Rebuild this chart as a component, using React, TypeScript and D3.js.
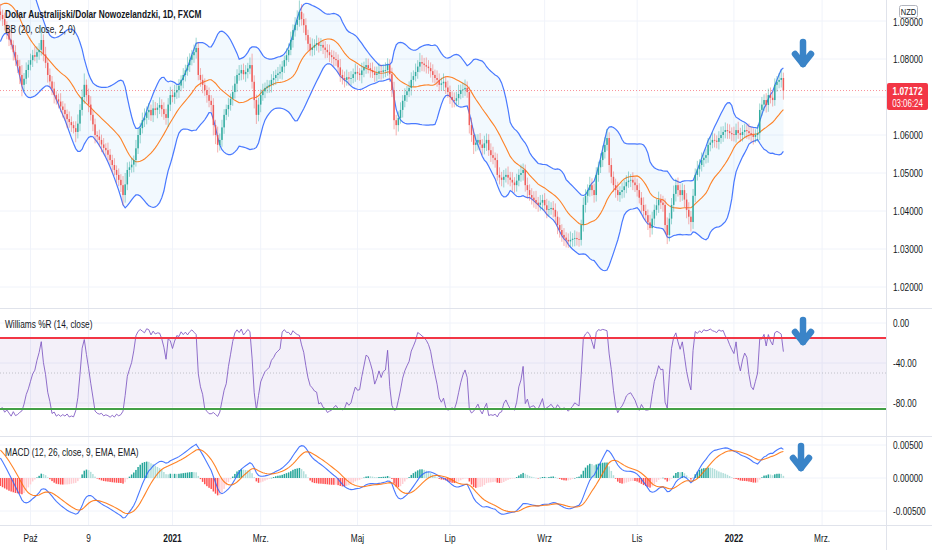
import React from "react";
import * as d3 from "d3";

// ---------- DATA (pips above 1.0000) ----------
// closes before the first visible bar (only used to warm up the indicators)
const WARM_CLOSES = [740,748,745,755,762,758,768,775,770,780,788,785,795,800,798,808,815,812,820,828,835,840,855,870,890,910,930,950,965,980,995,1005,1000,990,985,975,960,950,940,925];

// daily closes, first bar 2020-09-11, last bar 2022-02-03
const CLOSES = [
916,905,889,872,851,837,818,797,781,758,
732,748,771,785,797,810,806,818,824,850,
812,790,758,741,722,705,694,688,675,666,
655,642,634,626,618,608,630,666,700,732,
705,680,653,628,600,596,587,575,566,560,
548,534,521,508,495,482,468,442,470,508,
515,522,534,565,600,618,639,645,660,666,
652,670,666,672,679,668,655,645,680,705,
700,712,718,730,745,758,770,784,798,810,
818,829,758,745,732,718,705,690,679,626,
600,574,587,620,653,668,679,695,713,735,
758,762,771,760,766,775,784,740,692,653,
680,705,715,724,728,732,745,750,758,762,
766,780,797,810,824,850,876,890,903,924,
905,889,863,840,824,830,837,842,835,837,
830,824,818,810,805,800,797,778,758,750,
745,752,748,750,760,766,762,758,770,778,
784,776,771,765,758,762,768,766,770,771,
784,760,718,639,626,645,666,690,705,715,
724,745,755,766,780,792,788,784,780,776,
768,758,750,745,732,736,740,725,713,700,
692,690,697,708,718,720,724,713,626,600,
574,580,587,575,566,578,587,560,547,540,
534,495,488,482,490,495,488,482,475,468,
480,495,500,508,468,455,442,435,429,422,
416,422,429,415,403,405,408,403,385,363,
350,337,330,324,320,324,327,329,326,324,
363,416,440,455,468,455,442,495,515,534,
555,574,592,521,490,468,455,442,450,455,
465,476,480,482,475,468,455,435,416,400,
389,370,355,380,403,415,429,422,416,363,
337,380,416,445,468,455,442,455,430,403,
385,371,440,495,510,521,534,540,547,574,
580,587,585,582,592,600,608,613,610,605,
602,600,613,605,600,608,613,610,605,600,
595,600,605,666,680,692,679,705,698,692,
732,740,745,750,717
];

// upper wick above the body, pips
const WICK_UP = [
20,14,17,10,15,24,12,18,14,17,26,15,20,12,17,14,22,15,18,34,
15,20,12,17,14,18,10,15,22,14,17,12,20,15,10,18,24,15,20,30,
14,17,22,12,15,10,18,14,17,12,20,15,14,18,12,17,15,24,30,20,
15,18,12,22,17,14,20,25,15,18,14,22,17,12,20,15,18,14,17,22,
15,20,14,17,12,18,15,22,17,14,20,27,15,18,14,17,12,20,15,18,
14,22,17,20,15,12,18,14,17,20,15,22,14,17,18,15,20,30,17,14,
18,15,20,14,17,12,15,18,14,17,20,15,12,18,17,22,15,20,25,30,
20,15,18,14,17,24,15,20,14,18,12,17,15,20,14,17,18,15,22,14,
17,20,14,18,15,22,17,14,20,15,18,17,14,20,15,18,22,17,15,20,
18,15,17,22,14,17,20,15,18,14,17,20,15,22,17,24,18,15,20,17,
15,18,14,20,17,15,22,14,18,17,15,20,17,24,15,18,22,17,14,20,
17,22,15,18,14,20,17,15,18,22,14,17,20,15,18,17,22,15,20,14,
18,15,22,17,14,20,15,18,17,24,15,20,14,18,17,22,15,18,17,14,
20,15,18,14,17,22,15,20,17,18,14,20,17,15,22,18,17,20,15,18,
17,20,24,15,18,14,17,22,15,20,17,18,24,15,20,14,17,18,15,20,
17,15,20,18,14,17,22,15,18,17,20,15,18,22,17,20,15,18,14,17,
20,15,18,17,22,15,20,14,17,18,15,20,17,14,18,22,15,20,17,18,
15,20,17,22,14,18,17,15,20,17,18,15,22,17,20,15,18,17,20,18,
17,15,18,22,14
];

// lower wick below the body, pips
const WICK_DN = [
15,18,14,20,17,12,22,15,18,24,30,17,14,20,15,18,12,17,20,15,
18,14,20,15,17,22,14,18,15,20,17,24,15,18,14,27,17,20,15,18,
17,20,15,18,22,14,17,20,15,18,17,14,20,15,22,17,18,27,20,15,
18,14,20,17,15,22,14,18,17,20,15,18,14,22,17,20,15,18,24,17,
14,18,17,20,15,22,17,14,18,15,20,17,14,18,22,15,20,17,18,27,
24,20,15,18,17,14,20,15,18,17,22,15,18,14,20,17,15,18,22,24,
17,20,15,18,14,17,20,15,18,17,14,20,17,15,18,14,20,17,15,18,
17,20,14,18,15,17,20,15,18,14,17,22,15,18,17,20,15,14,18,17,
20,15,18,17,14,20,17,15,22,18,17,14,20,15,18,17,15,20,17,18,
15,20,18,24,27,17,15,20,17,18,15,20,17,14,18,15,20,17,18,15,
17,20,15,18,17,14,20,17,15,18,20,17,15,18,14,20,17,15,22,18,
24,17,20,15,18,17,20,15,18,17,20,15,18,17,20,15,18,17,22,20,
17,15,18,20,17,22,15,18,20,17,18,15,20,17,22,18,15,20,17,24,
20,18,22,20,17,15,18,20,17,18,15,17,20,18,17,15,20,17,18,15,
18,17,15,20,17,18,20,15,18,17,20,18,15,17,20,18,17,15,20,18,
17,20,24,17,18,15,20,17,18,22,24,17,15,18,20,17,18,15,20,22,
20,25,18,17,15,20,17,18,15,20,17,15,18,17,20,15,18,17,20,15,
18,17,20,15,18,17,15,20,17,18,20,15,17,18,15,17,20,18,15,17,
15,18,17,20,24
];

const PRICE_TICKS = [1.02, 1.03, 1.04, 1.05, 1.06, 1.07, 1.08, 1.09];
const WPR_TICKS = [0, -40, -80];
const MACD_TICKS = [0.005, 0, -0.005];
const WPR_LEVELS = { upper: -15, middle: -50, lower: -86 };
const TIME_LABELS = [
  { text: "Paź", date: "2020-10-01", bold: false },
  { text: "9", date: "2020-11-09", bold: false },
  { text: "2021", date: "2021-01-01", bold: true },
  { text: "Mrz.", date: "2021-03-01", bold: false },
  { text: "Maj", date: "2021-05-03", bold: false },
  { text: "Lip", date: "2021-07-01", bold: false },
  { text: "Wrz", date: "2021-09-01", bold: false },
  { text: "Lis", date: "2021-11-01", bold: false },
  { text: "2022", date: "2022-01-03", bold: true },
  { text: "Mrz.", date: "2022-03-01", bold: false },
];
const START_DATE = "2020-09-11";
const LAST_PRICE_TEXT = "1.07172";
const COUNTDOWN_TEXT = "03:06:24";
const TITLE = "Dolar Australijski/Dolar Nowozelandzki, 1D, FXCM";
const BB_TITLE = "BB (20, close, 2, 0)";
const WPR_TITLE = "Williams %R (14, close)";
const MACD_TITLE = "MACD (12, 26, close, 9, EMA, EMA)";
const CURRENCY = "NZD";

// ---------- helpers ----------
const DAY = 86400000;
function weekdayIndex(iso: string): number {
  const s = Date.parse(START_DATE + "T00:00:00Z");
  const t = Date.parse(iso + "T00:00:00Z");
  let n = 0;
  for (let d = s; d < t; d += DAY) {
    const wd = new Date(d).getUTCDay();
    if (wd !== 0 && wd !== 6) n++;
  }
  return n;
}

function ema(src: number[], len: number): number[] {
  const a = 2 / (len + 1);
  const out: number[] = [];
  src.forEach((v, k) => {
    out.push(k === 0 ? v : a * v + (1 - a) * out[k - 1]);
  });
  return out;
}

// ---------- computed series ----------
const NW = WARM_CLOSES.length;
const N = CLOSES.length;
const closeAll = [...WARM_CLOSES, ...CLOSES].map((v) => 1 + v / 10000);
const openAll = closeAll.map((c, k) => (k === 0 ? c : closeAll[k - 1]));
const highAll = closeAll.map((c, k) =>
  k < NW ? c : Math.max(openAll[k], c) + WICK_UP[k - NW] / 10000
);
const lowAll = closeAll.map((c, k) =>
  k < NW ? c : Math.min(openAll[k], c) - WICK_DN[k - NW] / 10000
);

const bbBasis: number[] = [];
const bbUpper: number[] = [];
const bbLower: number[] = [];
const wpr: number[] = [];
for (let i = 0; i < N; i++) {
  const k = i + NW;
  const win = closeAll.slice(k - 19, k + 1);
  const m = d3.mean(win) as number;
  const sd = Math.sqrt(d3.mean(win.map((v) => (v - m) * (v - m))) as number);
  bbBasis.push(m);
  bbUpper.push(m + 2 * sd);
  bbLower.push(m - 2 * sd);
  const hh = d3.max(highAll.slice(k - 13, k + 1)) as number;
  const ll = d3.min(lowAll.slice(k - 13, k + 1)) as number;
  wpr.push(hh === ll ? -50 : ((hh - closeAll[k]) / (hh - ll)) * -100);
}
const ema12 = ema(closeAll, 12);
const ema26 = ema(closeAll, 26);
const macdAll = closeAll.map((_, k) => ema12[k] - ema26[k]);
const sigAll = ema(macdAll, 9);
const histAll = macdAll.map((m, k) => m - sigAll[k]);

// ---------- layout ----------
const W = 932;
const H = 550;
const PR = 886; // plot right edge
const MAIN = { top: 0, bottom: 308 };
const WP = { top: 308, bottom: 436 };
const MP = { top: 436, bottom: 525 };
const FONT = "'Liberation Sans', Arial, sans-serif";
const TXT = "#131722";
const GRID = "#f0f3fa";
const SEP = "#e0e3eb";
const UP = "#26a69a";
const DOWN = "#ef5350";
const ARROW = "#3a84c8";
const SQ = 0.79; // horizontal squeeze of the lettering

const x = d3.scaleLinear().domain([0, N - 1]).range([0.4, 783.4]);
const yP = d3.scaleLinear().domain([1.02, 1.08]).range([287, 59]);
const yW = d3.scaleLinear().domain([-100, 0]).range([423, 323]);
const yM = d3.scaleLinear().domain([-0.005, 0.005]).range([511, 445]);

function T({
  x: tx, y: ty, children, size = 10, weight = 400, anchor = "start", fill = TXT,
}: { x: number; y: number; children: React.ReactNode; size?: number; weight?: number; anchor?: string; fill?: string }) {
  return (
    <text
      transform={`translate(${tx},${ty}) scale(${SQ},1)`}
      dy="0.35em"
      fontSize={size}
      fontWeight={weight}
      textAnchor={anchor as any}
      fill={fill}
    >
      {children}
    </text>
  );
}

function Arrow({ cx, top }: { cx: number; top: number }) {
  return (
    <g stroke={ARROW} strokeWidth={6.5} strokeLinecap="round" strokeLinejoin="round" fill="none">
      <line x1={cx} y1={top + 3} x2={cx} y2={top + 25} />
      <polyline points={`${cx - 8},${top + 15} ${cx},${top + 25} ${cx + 8},${top + 15}`} />
    </g>
  );
}

export default function App() {
  const idx = d3.range(N);
  const bbArea = d3
    .area<number>()
    .x((i) => x(i))
    .y0((i) => yP(bbLower[i]))
    .y1((i) => yP(bbUpper[i]));
  const line = (arr: number[], y: d3.ScaleLinear<number, number>) =>
    d3
      .line<number>()
      .x((i) => x(i))
      .y((i) => y(arr[i]))(idx) as string;

  const macdVis = macdAll.slice(NW);
  const sigVis = sigAll.slice(NW);
  const lastClose = closeAll[closeAll.length - 1];
  const yLast = yP(lastClose);
  const timeTicks = TIME_LABELS.map((t) => ({ ...t, x: x(weekdayIndex(t.date)) }));

  return (
    <svg
      width={W}
      height={H}
      style={{ position: "fixed", left: 0, top: 0, background: "#fff" }}
      fontFamily={FONT}
    >
      <defs>
        <clipPath id="cMain"><rect x={0} y={MAIN.top} width={PR} height={MAIN.bottom - MAIN.top} /></clipPath>
        <clipPath id="cW"><rect x={0} y={WP.top} width={PR} height={WP.bottom - WP.top} /></clipPath>
        <clipPath id="cM"><rect x={0} y={MP.top} width={PR} height={MP.bottom - MP.top} /></clipPath>
      </defs>
      <rect x={0} y={0} width={W} height={H} fill="#fff" />

      {/* vertical grid */}
      {timeTicks.map((t, j) => (
        <line key={"vg" + j} x1={t.x} x2={t.x} y1={0} y2={MP.bottom} stroke={GRID} strokeWidth={1} />
      ))}
      {/* horizontal grid */}
      {PRICE_TICKS.map((p) => (
        <line key={"pg" + p} x1={0} x2={PR} y1={yP(p)} y2={yP(p)} stroke={GRID} />
      ))}
      {WPR_TICKS.map((p) => (
        <line key={"wg" + p} x1={0} x2={PR} y1={yW(p)} y2={yW(p)} stroke={GRID} />
      ))}
      {MACD_TICKS.map((p) => (
        <line key={"mg" + p} x1={0} x2={PR} y1={yM(p)} y2={yM(p)} stroke={GRID} />
      ))}

      {/* ---------- main pane ---------- */}
      <g clipPath="url(#cMain)">
        <path d={bbArea(idx) as string} fill="rgba(33,150,243,0.06)" />
        <path d={line(bbUpper, yP)} fill="none" stroke="#2962ff" strokeWidth={1.2} opacity={0.85} />
        <path d={line(bbLower, yP)} fill="none" stroke="#2962ff" strokeWidth={1.2} opacity={0.85} />
        <path d={line(bbBasis, yP)} fill="none" stroke="#ff6d00" strokeWidth={1.1} opacity={0.85} />
        <line x1={0} x2={PR} y1={yLast} y2={yLast} stroke="#f23645" strokeOpacity={0.55} strokeDasharray="1 2" />
        {idx.map((i) => {
          const k = i + NW;
          const o = openAll[k];
          const c = closeAll[k];
          const col = c >= o ? UP : DOWN;
          const yTop = yP(Math.max(o, c));
          const yBot = yP(Math.min(o, c));
          return (
            <g key={"c" + i}>
              <line x1={x(i)} x2={x(i)} y1={yP(highAll[k])} y2={yP(lowAll[k])} stroke={col} strokeWidth={0.9} opacity={0.5} />
              <rect x={x(i) - 0.75} width={1.5} y={yTop} height={Math.max(0.8, yBot - yTop)} fill={col} opacity={0.9} />
            </g>
          );
        })}
      </g>

      {/* ---------- Williams %R pane ---------- */}
      <g clipPath="url(#cW)">
        <rect
          x={0}
          width={PR}
          y={yW(WPR_LEVELS.upper)}
          height={yW(WPR_LEVELS.lower + 2) - yW(WPR_LEVELS.upper)}
          fill="rgba(126,87,194,0.09)"
        />
        <line x1={0} x2={PR} y1={yW(WPR_LEVELS.middle)} y2={yW(WPR_LEVELS.middle)} stroke="#b2b5be" strokeDasharray="1 2" strokeWidth={0.8} />
        <path d={line(wpr, yW)} fill="none" stroke="#7e57c2" strokeWidth={1} opacity={0.85} />
        <line x1={0} x2={PR} y1={yW(WPR_LEVELS.upper)} y2={yW(WPR_LEVELS.upper)} stroke="#f23645" strokeWidth={2} />
        <line x1={0} x2={PR} y1={yW(WPR_LEVELS.lower)} y2={yW(WPR_LEVELS.lower)} stroke="#43a047" strokeWidth={2} />
      </g>

      {/* ---------- MACD pane ---------- */}
      <g clipPath="url(#cM)">
        {idx.map((i) => {
          const k = i + NW;
          const h = histAll[k];
          const prev = histAll[k - 1];
          const col = h >= 0 ? (h >= prev ? "#26a69a" : "#b2dfdb") : h < prev ? "#ff5252" : "#ffcdd2";
          const y0 = yM(0);
          const y1 = yM(h);
          return (
            <rect key={"h" + i} x={x(i) - 0.75} width={1.5} y={Math.min(y0, y1)} height={Math.max(0.5, Math.abs(y1 - y0))} fill={col} />
          );
        })}
        <path d={line(macdVis, yM)} fill="none" stroke="#2962ff" strokeWidth={1.1} opacity={0.85} />
        <path d={line(sigVis, yM)} fill="none" stroke="#ff6d00" strokeWidth={1.1} opacity={0.85} />
      </g>

      {/* separators */}
      <line x1={0} x2={W} y1={WP.top + 0.5} y2={WP.top + 0.5} stroke={SEP} />
      <line x1={0} x2={W} y1={MP.top + 0.5} y2={MP.top + 0.5} stroke={SEP} />
      <line x1={0} x2={W} y1={MP.bottom + 0.5} y2={MP.bottom + 0.5} stroke={SEP} />
      <line x1={PR + 0.5} x2={PR + 0.5} y1={0} y2={H} stroke={SEP} />

      {/* arrows */}
      <Arrow cx={803} top={39} />
      <Arrow cx={803} top={317} />
      <Arrow cx={801} top={443} />

      {/* legends */}
      <T x={5} y={14} size={10.5} weight={700}>{TITLE}</T>
      <T x={5} y={29.5} size={10.5}>{BB_TITLE}</T>
      <T x={5} y={324.5} size={10.5}>{WPR_TITLE}</T>
      <T x={5} y={452} size={10.5}>{MACD_TITLE}</T>

      {/* price axis */}
      {PRICE_TICKS.filter((p) => Math.abs(yP(p) - yLast - 6) > 16).map((p) => (
        <T key={"pl" + p} x={893} y={yP(p) + (p === 1.09 ? 1 : 0)} size={10.5}>
          {p.toFixed(5)}
        </T>
      ))}
      {WPR_TICKS.map((p) => (
        <T key={"wl" + p} x={893} y={yW(p)} size={10.5}>
          {p.toFixed(2)}
        </T>
      ))}
      {MACD_TICKS.map((p) => (
        <T key={"ml" + p} x={893} y={yM(p)} size={10.5}>
          {p.toFixed(5)}
        </T>
      ))}
      <rect x={899.5} y={5.5} width={18} height={12} rx={2} fill="#fff" stroke="#b2b5be" />
      <T x={908.5} y={11.5} size={9.5} anchor="middle">{CURRENCY}</T>
      <rect x={887} y={yLast - 7.5} width={41} height={27} rx={2} fill="#f23645" />
      <T x={907.5} y={yLast + 0.5} size={10.5} weight={700} anchor="middle" fill="#fff">{LAST_PRICE_TEXT}</T>
      <T x={907.5} y={yLast + 12.5} size={10} anchor="middle" fill="#fff">{COUNTDOWN_TEXT}</T>

      {/* time axis */}
      {timeTicks.map((t, j) => (
        <T key={"tl" + j} x={t.x} y={538} size={10.5} weight={t.bold ? 700 : 400} anchor="middle">
          {t.text}
        </T>
      ))}
    </svg>
  );
}
